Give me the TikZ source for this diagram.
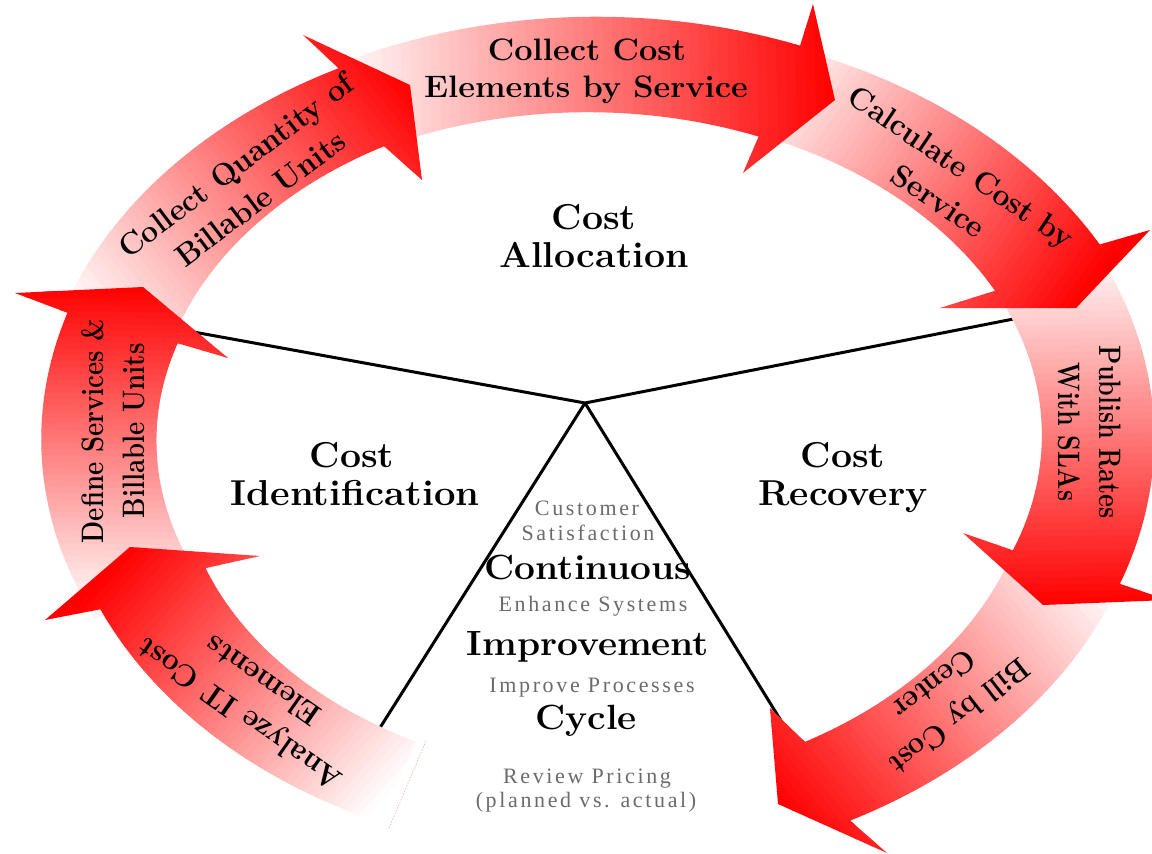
\documentclass[tikz,border=0pt]{standalone}
\usepackage{fontspec}
\usetikzlibrary{calc}
\newfontfamily\notefont{Liberation Serif}[LetterSpace=12]

% ring geometry: centre (593,440), outer radii 557/420, inner radii 452/328 (y grows downward)
\def\splittip#1,#2\relax{\def\Tpx{#1}\def\Tpy{#2}}
% #1 tail angle, #2 head-base angle, #3/#4 outer factor at tail/head,
% #5/#6 inner factor at tail/head, #7 outer barb, #8 tip, #9 inner barb
\newcommand\ringdata[9]{\def\Tt{#1}\def\Tb{#2}\def\Fot{#3}\def\Foh{#4}%
  \def\Fit{#5}\def\Fih{#6}\def\Bo{#7}\splittip#8\relax\def\Bi{#9}}
\newcommand\ringarrow{%
  \pgfmathsetmacro\gx{593+504*cos(\Tt)}%
  \pgfmathsetmacro\gy{440-374*sin(\Tt)}%
  \pgfmathsetmacro\gang{atan2(\gy-\Tpy,\Tpx-\gx)}%
  \pgfmathsetmacro\gdx{(\Tpx-\gx)/100}%
  \pgfmathsetmacro\gdy{(\Tpy-\gy)/100}%
  \pgfmathsetmacro\glen{100*sqrt(\gdx*\gdx+\gdy*\gdy)}%
  \pgfmathsetmacro\gstep{\glen/50}%
  \begin{scope}
    \clip plot[domain=\Tt:\Tb, samples=60, variable=\t]
      ({593+557*(\Fot+(\Foh-\Fot)*(\t-(\Tt))/(\Tb-(\Tt)))*cos(\t)},
       {440-420*(\Fot+(\Foh-\Fot)*(\t-(\Tt))/(\Tb-(\Tt)))*sin(\t)})
      -- (\Bo) -- (\Tpx,\Tpy) -- (\Bi)
      -- plot[domain=\Tb:\Tt, samples=60, variable=\t]
      ({593+452*(\Fit+(\Fih-\Fit)*(\t-(\Tt))/(\Tb-(\Tt)))*cos(\t)},
       {440-328*(\Fit+(\Fih-\Fit)*(\t-(\Tt))/(\Tb-(\Tt)))*sin(\t)})
      -- cycle;
    \begin{scope}[shift={(\gx,\gy)}, rotate=\gang]
      \fill[red!4] (-700,-700) rectangle (0.5,700);
      \foreach \k in {0,...,49}{
        \pgfmathsetmacro\pc{4+1.92*\k+1}
        \pgfmathsetmacro\sa{\gstep*\k}
        \pgfmathsetmacro\sb{\gstep*(\k+1)+0.7}
        \fill[red!\pc!white] (\sa,-700) rectangle (\sb,700);
      }
      \fill[red] (\glen,-700) rectangle (1400,700);
    \end{scope}
  \end{scope}}

\begin{document}
\begin{tikzpicture}[x=1pt,y=-1pt,
  spoke/.style={line width=3pt, black},
  arrowlbl/.style={font=\bfseries\fontsize{31}{41}\selectfont, align=center, inner sep=0pt},
  phaselbl/.style={font=\bfseries\fontsize{36}{40}\selectfont, inner sep=0pt, anchor=base, xscale=1.04},
  cyclebold/.style={font=\bfseries\fontsize{35}{38}\selectfont, inner sep=0pt, anchor=base, xscale=1.06},
  cyclenote/.style={font=\notefont\fontsize{22}{24}\selectfont,
                    text=black!58, inner sep=0pt, anchor=base},
]
\useasboundingbox (0,0) rectangle (1152,854);
\clip (0,0) rectangle (1152,854);

% spokes from the hub
\coordinate (hub) at (585,403);
\coordinate (spokeNW) at (166,327);
\coordinate (spokeNE) at (1039,314);
\coordinate (spokeSW) at (371,742);
\coordinate (spokeSE) at (796,745);
\draw[spoke] (hub) -- (spokeNW);
\draw[spoke] (hub) -- (spokeNE);
\draw[spoke] (hub) -- (spokeSW);
\draw[spoke] (hub) -- (spokeSE);

% ring of arrows, drawn so that each head lies over the next tail
\ringdata{-18.9}{-63}{1.005}{1.017}{0.988}{1.033}{887,853}{778,804}{770,708}\ringarrow
\ringdata{28.1}{-19.9}{1.01}{1.006}{1.0}{0.988}{1168,600}{1043,605}{963,533}\ringarrow
\ringdata{69.4}{27.1}{1.0}{1.022}{1.0}{0.999}{1150,230}{1076,308}{940,308}\ringarrow
\ringdata{118.3}{68.4}{1.005}{1.01}{1.005}{0.995}{813,4}{835,100}{743,173}\ringarrow
\ringdata{163.2}{117.3}{1.0}{0.996}{0.978}{1.008}{303,35}{410,85}{422,180}\ringarrow
\ringdata{205.5}{162.2}{0.99}{0.991}{0.967}{0.965}{15,293}{143,287}{228,358}\ringarrow
% the open tail at the bottom fades to pure white
\begin{scope}
\ringdata{247}{204.5}{0.988}{0.972}{1.0}{0.942}{45,620}{130,547}{260,556}
\pgfmathsetmacro\gx{593+504*cos(\Tt)}%
\pgfmathsetmacro\gy{440-374*sin(\Tt)}%
\pgfmathsetmacro\gang{atan2(\gy-\Tpy,\Tpx-\gx)}%
\pgfmathsetmacro\gdx{(\Tpx-\gx)/100}%
\pgfmathsetmacro\gdy{(\Tpy-\gy)/100}%
\pgfmathsetmacro\glen{100*sqrt(\gdx*\gdx+\gdy*\gdy)}%
\pgfmathsetmacro\gstep{\glen/50}%
\clip plot[domain=\Tt:\Tb, samples=60, variable=\t]
  ({593+557*(\Fot+(\Foh-\Fot)*(\t-(\Tt))/(\Tb-(\Tt)))*cos(\t)},
   {440-420*(\Fot+(\Foh-\Fot)*(\t-(\Tt))/(\Tb-(\Tt)))*sin(\t)})
  -- (\Bo) -- (\Tpx,\Tpy) -- (\Bi)
  -- plot[domain=\Tb:\Tt, samples=60, variable=\t]
  ({593+452*(\Fit+(\Fih-\Fit)*(\t-(\Tt))/(\Tb-(\Tt)))*cos(\t)},
   {440-328*(\Fit+(\Fih-\Fit)*(\t-(\Tt))/(\Tb-(\Tt)))*sin(\t)})
  -- cycle;
\begin{scope}[shift={(\gx,\gy)}, rotate=\gang]
  \fill[white] (-700,-700) rectangle (0.5,700);
  \foreach \k in {0,...,49}{
    \pgfmathsetmacro\pc{2*\k+1}
    \pgfmathsetmacro\sa{\gstep*\k}
    \pgfmathsetmacro\sb{\gstep*(\k+1)+0.7}
    \fill[red!\pc!white] (\sa,-700) rectangle (\sb,700);
  }
  \fill[red] (\glen,-700) rectangle (1400,700);
\end{scope}
\end{scope}

% faint edge at the open tail
\coordinate (tailA) at (426,741);
\coordinate (tailB) at (389,828);
\draw[red!30, line width=0.7pt, dash pattern=on 1.5pt off 1.5pt] (tailA) -- (tailB);

% step labels on the arrows
\node[arrowlbl, anchor=base, xscale=1.05] (lblcc1) at (587,60) {Collect Cost};
\node[arrowlbl, anchor=base, xscale=1.05] (lblcc2) at (586,97) {Elements by Service};
\node[arrowlbl, rotate=37, xscale=0.97] (lblcq) at (248,182) {Collect Quantity of\\Billable Units};
\node[arrowlbl, rotate=-34, xscale=0.97] (lblcalc) at (950,184) {Calculate Cost by\\Service};
\node[arrowlbl, rotate=90, xscale=0.83] (lbldef) at (113,431) {Define Services \&\\Billable Units};
\node[arrowlbl, rotate=-90, xscale=0.81] (lblpub) at (1090,432) {Publish Rates\\With SLAs};
\node[arrowlbl, rotate=218, xscale=0.92] (lblbill) at (947,701) {Bill by Cost\\Center};
\node[arrowlbl, rotate=145, xscale=0.96] (lblan) at (251,698) {Analyze IT Cost\\Elements};

% phase labels
\node[phaselbl] (alloc1) at (594,229) {Cost};
\node[phaselbl] (alloc2) at (594,267) {Allocation};
\node[phaselbl] (ident1) at (352,467) {Cost};
\node[phaselbl, xscale=1.02] (ident2) at (355,505) {Identification};
\node[phaselbl] (recov1) at (843,467) {Cost};
\node[phaselbl] (recov2) at (843,505) {Recovery};

% continuous improvement column
\node[cyclenote] (cust) at (587,515) {Customer};
\node[cyclenote] (satis) at (588,540) {Satisfaction};
\node[cyclebold] (cont) at (588,579) {Continuous};
\node[cyclenote] (enh) at (593,611) {Enhance Systems};
\node[cyclebold] (impr) at (588,655) {Improvement};
\node[cyclenote] (impp) at (592,692) {Improve Processes};
\node[cyclebold] (cyc) at (586,729) {Cycle};
\node[cyclenote] (rev) at (587,783) {Review Pricing};
\node[cyclenote] (plan) at (586,807) {(planned vs. actual)};
\end{tikzpicture}
\end{document}
